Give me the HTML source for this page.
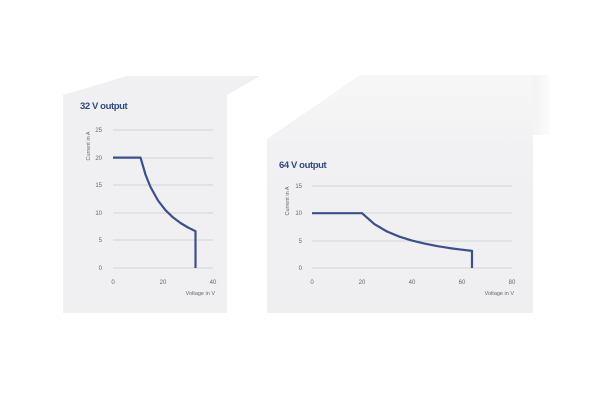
<!DOCTYPE html>
<html><head><meta charset="utf-8"><style>
body{margin:0;background:#fff;width:600px;height:400px;overflow:hidden}
svg{display:block}
text{font-family:"Liberation Sans",sans-serif}
</style></head><body>
<svg width="600" height="400" viewBox="0 0 600 400">
<defs>
<linearGradient id="g" x1="0" y1="0" x2="0" y2="1"><stop offset="0" stop-color="#f7f7f8"/><stop offset="0.3" stop-color="#f1f1f3"/><stop offset="1" stop-color="#efeff1"/></linearGradient>
<linearGradient id="s" x1="0" y1="0" x2="1" y2="0"><stop offset="0" stop-color="#f3f3f5"/><stop offset="1" stop-color="#fbfbfc"/></linearGradient>
</defs>
<polygon points="63,95 127,76 260,76 227,95 227,313 63,313" fill="#f0f0f2"/>
<rect x="533" y="75" width="16" height="60" fill="url(#s)"/>
<polygon points="267,139 360,75 533,75 533,313 267,313" fill="url(#g)"/>
<g stroke="#d4d4d8" stroke-width="1">
<line x1="113" y1="130" x2="213" y2="130"/><line x1="113" y1="158" x2="213" y2="158"/><line x1="113" y1="185" x2="213" y2="185"/><line x1="113" y1="213" x2="213" y2="213"/><line x1="113" y1="240" x2="213" y2="240"/><line x1="113" y1="268" x2="213" y2="268"/>
<line x1="312" y1="186" x2="512" y2="186"/><line x1="312" y1="213" x2="512" y2="213"/><line x1="312" y1="241" x2="512" y2="241"/><line x1="312" y1="268" x2="512" y2="268"/>
</g>
<g font-size="6" fill="#666" text-anchor="end">
<text x="102" y="132">25</text><text x="102" y="160">20</text><text x="102" y="187">15</text><text x="102" y="215">10</text><text x="102" y="242">5</text><text x="102" y="270">0</text>
<text x="302" y="188">15</text><text x="302" y="215">10</text><text x="302" y="243">5</text><text x="302" y="270">0</text>
</g>
<g font-size="6" fill="#666" text-anchor="middle">
<text x="113" y="284">0</text><text x="163" y="284">20</text><text x="213" y="284">40</text>
<text x="312" y="284">0</text><text x="362" y="284">20</text><text x="412" y="284">40</text><text x="462" y="284">60</text><text x="512" y="284">80</text>
</g>
<g font-size="5.5" fill="#666">
<text x="215" y="295" text-anchor="end">Voltage in V</text>
<text x="514" y="295" text-anchor="end">Voltage in V</text>
<text transform="translate(90,146) rotate(-90)" text-anchor="middle">Current in A</text>
<text transform="translate(289,201) rotate(-90)" text-anchor="middle">Current in A</text>
</g>
<g font-size="9.5" font-weight="bold" fill="#2e4a86" letter-spacing="-0.4">
<text x="80" y="109">32 V output</text>
<text x="279" y="168">64 V output</text>
</g>
<g fill="none" stroke="#3b4f8c" stroke-width="2.2" stroke-linejoin="round">
<polyline points="113,157.6 140.5,157.6 145.5,174.6 150.5,187 158,200.5 165.5,210.2 173,217.4 180.5,223 188,227.5 195.5,231.2 195.5,268"/>
<polyline points="312,213.2 362,213.2 374.5,224.2 387,231.5 399.5,236.7 412,240.6 424.5,243.6 437,246.1 449.5,248.1 462,249.7 472,250.9 472,268"/>
</g>
</svg>
</body></html>
